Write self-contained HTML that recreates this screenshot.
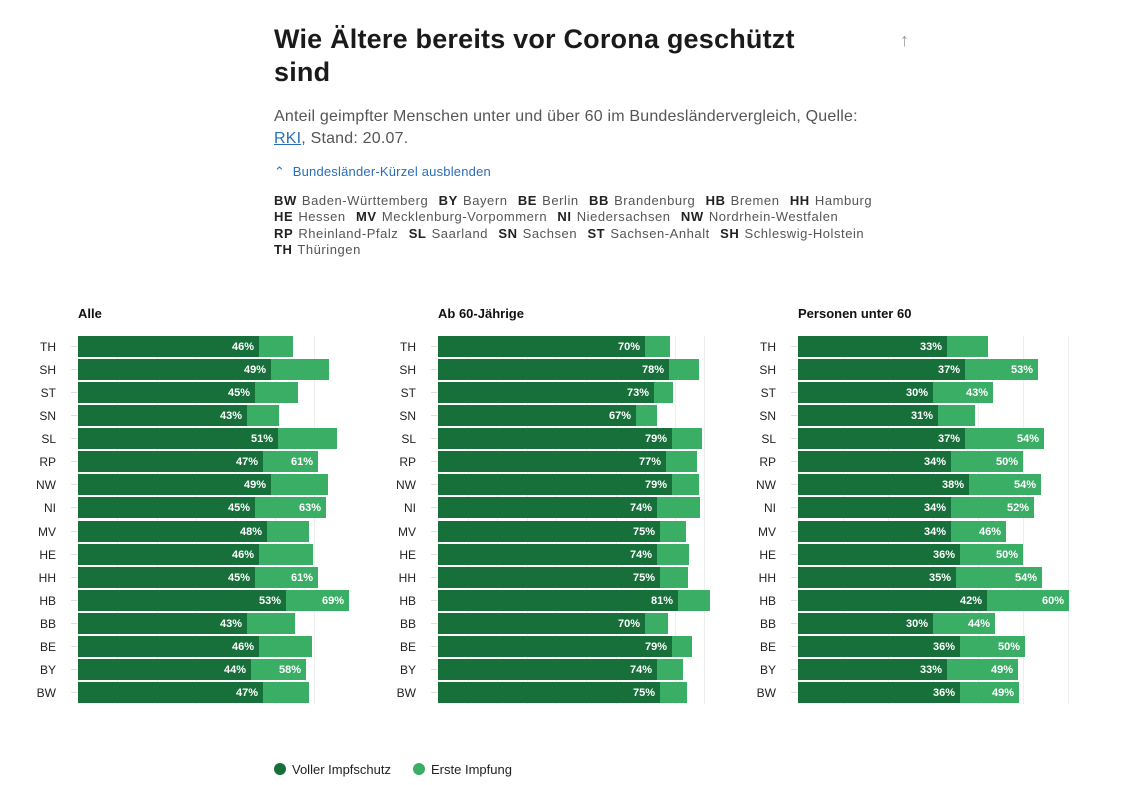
<!DOCTYPE html><html><head><meta charset="utf-8"><style>
body{margin:0;width:1135px;height:785px;background:#fff;font-family:"Liberation Sans",sans-serif;color:#222;position:relative;overflow:hidden}
.a{position:absolute}
h1{position:absolute;left:274px;top:23px;margin:0;font-size:27px;line-height:33px;font-weight:bold;color:#1a1a1a;width:560px;letter-spacing:0.2px}
.sub{left:274px;top:106px;font-size:16px;line-height:22px;color:#555;width:610px;letter-spacing:0.2px}
.sub u{color:#2a6ebb}
.tog{left:274px;top:164px;font-size:13px;color:#2a6ebb;letter-spacing:0.2px}
.abbr{left:274px;top:193px;font-size:13px;line-height:16.3px;color:#555;width:640px;letter-spacing:0.55px;word-spacing:1px}
.abbr b{color:#222}
.pt{font-size:13px;font-weight:bold;color:#111}
.rl{font-size:12px;color:#222;width:40px;text-align:right}
.bar{height:21px}
.lb{font-size:11px;font-weight:bold;color:#fff;text-align:right;line-height:21px}
.g{width:1px;background:#eee;top:336px;height:368px}
.leg{top:762px;font-size:13px;color:#222}
.dot{width:12px;height:12px;border-radius:6px;top:763px}
</style></head><body>
<h1>Wie Ältere bereits vor Corona geschützt sind</h1>
<div class="a" style="left:900px;top:30px;font-size:18px;color:#999">↑</div>
<div class="a sub">Anteil geimpfter Menschen unter und über 60 im Bundesländervergleich, Quelle: <u>RKI</u>, Stand: 20.07.</div>
<div class="a tog">⌃&nbsp; Bundesländer-Kürzel ausblenden</div>
<div class="a abbr"><b>BW</b> Baden-Württemberg &nbsp;<b>BY</b> Bayern &nbsp;<b>BE</b> Berlin &nbsp;<b>BB</b> Brandenburg &nbsp;<b>HB</b> Bremen &nbsp;<b>HH</b> Hamburg<br><b>HE</b> Hessen &nbsp;<b>MV</b> Mecklenburg-Vorpommern &nbsp;<b>NI</b> Niedersachsen &nbsp;<b>NW</b> Nordrhein-Westfalen<br><b>RP</b> Rheinland-Pfalz &nbsp;<b>SL</b> Saarland &nbsp;<b>SN</b> Sachsen &nbsp;<b>ST</b> Sachsen-Anhalt &nbsp;<b>SH</b> Schleswig-Holstein<br><b>TH</b> Thüringen</div>
<div id="c"></div>
<div class="a dot" style="left:274px;background:#176f3a"></div><div class="a leg" style="left:292px">Voller Impfschutz</div>
<div class="a dot" style="left:413px;background:#3bae66"></div><div class="a leg" style="left:431px">Erste Impfung</div>
<script>
var st=["TH","SH","ST","SN","SL","RP","NW","NI","MV","HE","HH","HB","BB","BE","BY","BW"];
var P=[
{x:78,s:3.93,t:"Alle",grid:10,d:[46,49,45,43,51,47,49,45,48,46,45,53,43,46,44,47],l:[293,329,298,279,337,318,328,326,309,313,318,349,295,312,306,309],ll:[0,0,0,0,0,61,0,63,0,0,61,69,0,0,58,0]},
{x:438,s:2.96,t:"Ab 60-Jährige",grid:10,d:[70,78,73,67,79,77,79,74,75,74,75,81,70,79,74,75],l:[670,699,673,657,702,697,699,700,686,689,688,710,668,692,683,687],ll:[]},
{x:798,s:4.5,t:"Personen unter 60",grid:10,d:[33,37,30,31,37,34,38,34,34,36,35,42,30,36,33,36],l:[988,1038,993,975,1044,1023,1041,1034,1006,1023,1042,1069,995,1025,1018,1019],ll:[0,53,43,0,54,50,54,52,46,50,54,60,44,50,49,49]}];
var h="";
P.forEach(function(p){
 h+='<div class="a pt" style="left:'+p.x+'px;top:306px">'+p.t+'</div>';
 for(var k=0;k*p.grid*p.s<=275;k++)h+='<div class="a g" style="left:'+Math.round(p.x+k*p.grid*p.s)+'px"></div>';
 st.forEach(function(s,i){
  var y=336+i*23.07,de=Math.round(p.x+p.d[i]*p.s);
  h+='<div class="a rl" style="left:'+(p.x-62)+'px;top:'+(y+4)+'px">'+s+'</div>';
  h+='<div class="a" style="left:'+(p.x-7)+'px;top:'+(y+10)+'px;width:6px;height:1px;background:#ddd"></div>';
  h+='<div class="a bar" style="left:'+p.x+'px;top:'+y+'px;width:'+(p.l[i]-p.x)+'px;background:#3bae66"></div>';
  h+='<div class="a bar" style="left:'+p.x+'px;top:'+y+'px;width:'+(de-p.x)+'px;background:#176f3a"></div>';
  h+='<div class="a lb" style="left:'+(de-50)+'px;top:'+(y+1)+'px;width:45px">'+p.d[i]+'%</div>';
  if(p.ll[i])h+='<div class="a lb" style="left:'+(p.l[i]-50)+'px;top:'+(y+1)+'px;width:45px">'+p.ll[i]+'%</div>';
 });
});
document.getElementById("c").innerHTML=h;
</script></body></html>
